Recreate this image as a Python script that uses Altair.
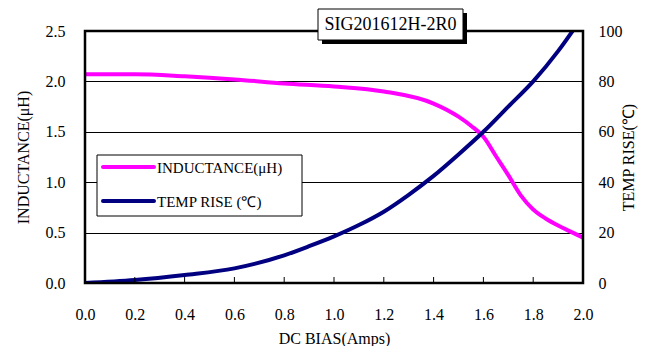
import altair as alt
import pandas as pd

# ---- data ----
ind_x = [0.0, 0.2, 0.4, 0.6, 0.8, 1.0, 1.2, 1.4, 1.5, 1.55, 1.6, 1.65, 1.7, 1.75, 1.8, 1.85, 1.9, 1.95, 2.0]
ind_y = [2.07, 2.07, 2.05, 2.02, 1.98, 1.95, 1.90, 1.78, 1.65, 1.56, 1.45, 1.26, 1.07, 0.87, 0.73, 0.64, 0.57, 0.51, 0.45]

temp_x = [0.0, 0.2, 0.4, 0.6, 0.8, 0.9, 1.0, 1.1, 1.2, 1.3, 1.4, 1.5, 1.6, 1.7, 1.8, 1.9, 2.0]
temp_y = [0.0, 1.2, 3.2, 5.8, 11.0, 14.6, 18.5, 23.0, 28.3, 35.0, 42.5, 51.0, 60.0, 70.0, 80.0, 92.0, 106.0]

x_ticks = [0.0, 0.2, 0.4, 0.6, 0.8, 1.0, 1.2, 1.4, 1.6, 1.8, 2.0]
inner_ticks = [0.2, 0.4, 0.6, 0.8, 1.0, 1.2, 1.4, 1.6, 1.8]
ind_ticks = [0.0, 0.5, 1.0, 1.5, 2.0, 2.5]
temp_ticks = [0, 20, 40, 60, 80, 100]

title_text = "SIG201612H-2R0"
legend_labels = ["INDUCTANCE(μH)", "TEMP RISE (℃)"]
legend_colors = ["#FF00FF", "#000080"]

W, H = 498, 252
FONT = "Liberation Serif"

ind_df = pd.DataFrame({"x": ind_x, "y": ind_y})
temp_df = pd.DataFrame({"x": temp_x, "y": temp_y})
tick_df = pd.DataFrame({"x": inner_ticks})
one = pd.DataFrame({"a": [0]})

common = dict(labelFont=FONT, labelFontSize=16, labelColor="black", labelFlush=False,
              titleFont=FONT, titleFontSize=16, titleColor="black", titleFontWeight="normal",
              ticks=False, domain=False)

xscale = alt.Scale(domain=[0, 2], nice=False)
xaxis = alt.Axis(values=x_ticks, format=".1f", grid=False,
                 labelPadding=23, title="DC BIAS(Amps)", titlePadding=8, **common)

ind_line = alt.Chart(ind_df).mark_line(color=legend_colors[0], strokeWidth=4, interpolate="monotone").encode(
    x=alt.X("x:Q", scale=xscale, axis=xaxis),
    y=alt.Y("y:Q", scale=alt.Scale(domain=[0, 2.5], nice=False),
            axis=alt.Axis(values=ind_ticks, format=".1f", grid=True,
                          gridColor="black", gridWidth=1, labelPadding=20,
                          title="INDUCTANCE(μH)", titlePadding=14, **common)),
)

temp_line = alt.Chart(temp_df).mark_line(color=legend_colors[1], strokeWidth=4, interpolate="monotone", clip=True).encode(
    x=alt.X("x:Q", scale=xscale, axis=xaxis),
    y=alt.Y("y:Q", scale=alt.Scale(domain=[0, 100], nice=False),
            axis=alt.Axis(values=temp_ticks, orient="right", grid=False,
                          labelPadding=15, title="TEMP RISE(℃)", titlePadding=14,
                          titleAngle=270, **common)),
)

frame = alt.Chart(one).mark_rect(fill=None, stroke="black", strokeWidth=2.5).encode(
    x=alt.value(0), x2=alt.value(W), y=alt.value(0), y2=alt.value(H))

ticks = alt.Chart(tick_df).mark_rule(color="black", strokeWidth=1).encode(
    x=alt.X("x:Q", scale=xscale, axis=xaxis), y=alt.value(H), y2=alt.value(H - 6))

legend_box = alt.Chart(one).mark_rect(fill="white", stroke="black", strokeWidth=1).encode(
    x=alt.value(12), x2=alt.value(217), y=alt.value(124), y2=alt.value(185))

leg1 = alt.Chart(one).mark_rule(color=legend_colors[0], strokeWidth=4, strokeCap="round").encode(
    x=alt.value(18), x2=alt.value(69), y=alt.value(136))
leg2 = alt.Chart(one).mark_rule(color=legend_colors[1], strokeWidth=4, strokeCap="round").encode(
    x=alt.value(18), x2=alt.value(69), y=alt.value(170))
legt1 = alt.Chart(one).mark_text(text=legend_labels[0], font=FONT, fontSize=15, align="left",
                                 baseline="middle", color="black").encode(x=alt.value(72), y=alt.value(137))
legt2 = alt.Chart(one).mark_text(text=legend_labels[1], font=FONT, fontSize=15, align="left",
                                 baseline="middle", color="black").encode(x=alt.value(72), y=alt.value(171))

shadow = alt.Chart(one).mark_rect(fill="black").encode(
    x=alt.value(237), x2=alt.value(382), y=alt.value(-18), y2=alt.value(13))
tbox = alt.Chart(one).mark_rect(fill="white", stroke="black", strokeWidth=1).encode(
    x=alt.value(233), x2=alt.value(378), y=alt.value(-22), y2=alt.value(9))
ttext = alt.Chart(one).mark_text(text=title_text, font=FONT, fontSize=18, align="center",
                                 baseline="middle", color="black").encode(x=alt.value(305.5), y=alt.value(-6))

chart = alt.layer(
    ind_line, temp_line, frame, ticks, legend_box, leg1, leg2, legt1, legt2, shadow, tbox, ttext
).resolve_scale(y="independent").properties(
    width=W, height=H,
    padding={"left": 77, "top": 23, "right": 65, "bottom": 63},
    autosize=alt.AutoSizeParams(type="none"),
).configure_view(stroke=None)

chart.save("out.html", embed_options={"renderer": "svg", "actions": False})
